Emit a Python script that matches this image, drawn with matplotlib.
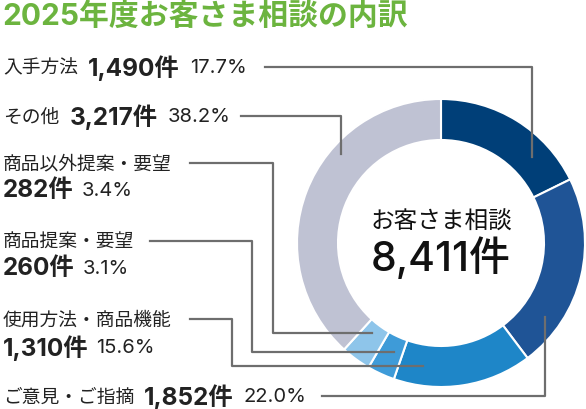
import matplotlib
matplotlib.use("Agg")
import matplotlib.pyplot as plt

plt.rcParams['font.family'] = ['Inter', 'Noto Sans CJK JP', 'DejaVu Sans']
CJK = ['Noto Sans CJK JP', 'DejaVu Sans']
NUM = ['Inter', 'Noto Sans CJK JP', 'DejaVu Sans']

# ---- data ----
categories = ["入手方法", "ご意見・ご指摘", "使用方法・商品機能", "商品提案・要望", "商品以外提案・要望", "その他"]
counts = [1490, 1852, 1310, 260, 282, 3217]
percents = [17.7, 22.0, 15.6, 3.1, 3.4, 38.2]
colors = ["#003f78", "#1f5496", "#1e86c8", "#3e9bd8", "#8ec5ea", "#bfc2d3"]
total_label = "8,411件"
center_title = "お客さま相談"
title = "2025年度お客さま相談の内訳"

W, H = 586, 410
fig = plt.figure(figsize=(W / 100, H / 100), dpi=100)
ax = fig.add_axes([0, 0, 1, 1])

cx, cy, R, ring = 441, 244, 144, 41
ax.pie(counts, colors=colors, startangle=-90, counterclock=True,
       center=(cx, cy), radius=R, frame=True,
       wedgeprops=dict(width=ring, edgecolor="white", linewidth=1.5))
ax.set_xlim(0, W)
ax.set_ylim(H, 0)
ax.set_aspect("equal")
ax.axis("off")

fig.canvas.draw()
renderer = fig.canvas.get_renderer()
inv = ax.transData.inverted()


def seq(x, y, parts):
    """parts: list of (text, size, weight, family, gap_after)"""
    for txt, size, weight, fam, gap in parts:
        t = ax.text(x, y, txt, fontsize=size, fontweight=weight, family=fam,
                    color="#222222", ha="left", va="center")
        bb = t.get_window_extent(renderer)
        x0, _ = inv.transform((bb.x0, 0))
        x1, _ = inv.transform((bb.x1, 0))
        x = x + (x1 - x0) + gap
    return x


def fmt(i):
    return f"{counts[i]:,}件", f"{percents[i]:.1f}%"

LS, NS, PS = 13.5, 17.5, 14.5
lc, lw = "#6e6e6e", 1.6

# 入手方法
n, p = fmt(0)
seq(3, 68, [(categories[0], LS, "normal", CJK, 10), (n, NS, "bold", NUM, 10), (p, PS, "normal", NUM, 0)])
ax.plot([265, 532, 532], [68, 68, 158], color=lc, lw=lw)

# その他
n, p = fmt(5)
seq(3, 117, [(categories[5], LS, "normal", CJK, 10), (n, NS, "bold", NUM, 10), (p, PS, "normal", NUM, 0)])
ax.plot([241, 341, 341], [117, 117, 155], color=lc, lw=lw)

# 商品以外提案・要望
n, p = fmt(4)
seq(3, 164, [(categories[4], LS, "normal", CJK, 0)])
seq(3, 191, [(n, NS, "bold", NUM, 8), (p, PS, "normal", NUM, 0)])
ax.plot([190, 273, 273, 372], [164, 164, 334, 334], color=lc, lw=lw)

# 商品提案・要望
n, p = fmt(3)
seq(3, 242, [(categories[3], LS, "normal", CJK, 0)])
seq(3, 269, [(n, NS, "bold", NUM, 8), (p, PS, "normal", NUM, 0)])
ax.plot([150, 252, 252, 394], [242, 242, 353, 353], color=lc, lw=lw)

# 使用方法・商品機能
n, p = fmt(2)
seq(3, 320, [(categories[2], LS, "normal", CJK, 0)])
seq(3, 348, [(n, NS, "bold", NUM, 8), (p, PS, "normal", NUM, 0)])
ax.plot([190, 232, 232, 423], [320, 320, 367, 367], color=lc, lw=lw)

# ご意見・ご指摘
n, p = fmt(1)
seq(3, 397, [(categories[1], LS, "normal", CJK, 10), (n, NS, "bold", NUM, 10), (p, PS, "normal", NUM, 0)])
ax.plot([322, 545, 545], [397, 397, 318], color=lc, lw=lw)

# center
ax.text(cx, 222, center_title, fontsize=17, family=CJK, ha="center", va="center", color="#111111")
ax.text(cx, 258, total_label, fontsize=29.5, family=NUM, fontweight="medium",
        ha="center", va="center", color="#111111")

# title
ax.text(2, 16, title, fontsize=21.5, fontweight="bold", family=NUM, color="#6cb43f",
        ha="left", va="center")

fig.savefig("out.png", dpi=100)
